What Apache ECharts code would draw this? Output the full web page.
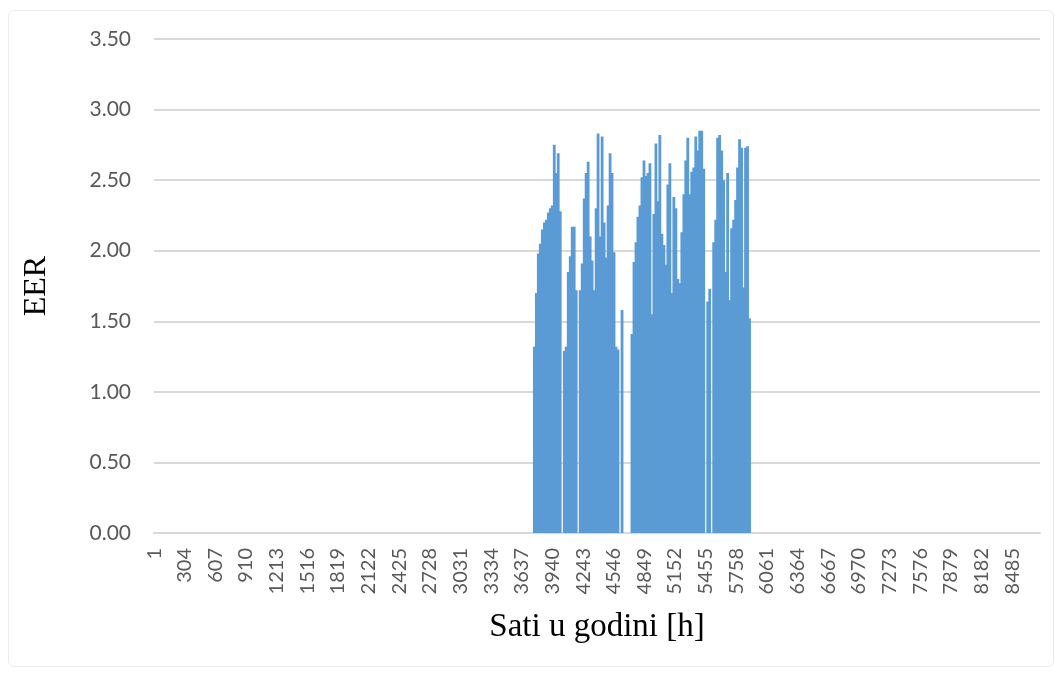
<!DOCTYPE html>
<html>
<head>
<meta charset="utf-8">
<title>EER</title>
<script src="https://cdn.jsdelivr.net/npm/echarts@6/dist/echarts.min.js"></script>
<style>
  html, body { margin: 0; padding: 0; background: #fff; }
  .frame {
    position: absolute; left: 8px; top: 10px; width: 1044px; height: 655px;
    border: 1px solid #ececec; border-radius: 6px;
  }
  #chart { width: 1059px; height: 673px; }
</style>
</head>
<body>
<div class="frame"></div>
<div id="chart"></div>
<script>
// sati u godini: 1 .. 8760
const hourCount = 8760
const tickStep = 303 // oznake na osi x: 1, 304, 607 ...
// očitane vrijednosti EER, jedna vrijednost za svakih ~20 sati, od sata 3760
const firstHour = 3760
const slotHours = 19.7
const eerValues = [
  1.32, 1.70, 1.98, 2.05, 2.15, 2.20, 2.22, 2.27, 2.30, 2.32,
  2.75, 2.55, 2.69, 2.28, 0, 1.29, 1.32, 1.85, 1.96, 2.17,
  2.17, 1.72, 0, 1.72, 1.91, 2.37, 2.55, 2.63, 2.10, 1.93,
  1.72, 2.30, 2.83, 2.10, 2.81, 2.20, 1.95, 2.32, 2.69, 2.55,
  1.99, 1.32, 1.30, 0, 1.58, 0, 0, 0, 0, 1.41,
  1.92, 2.06, 2.24, 2.32, 2.52, 2.64, 2.53, 2.55, 2.62, 1.55,
  2.26, 2.76, 2.35, 2.82, 2.12, 2.04, 1.90, 2.47, 2.62, 1.70,
  2.38, 2.30, 1.80, 1.77, 2.13, 2.40, 2.64, 2.80, 2.40, 2.56,
  2.59, 2.81, 2.71, 2.85, 2.85, 2.58, 0, 1.64, 1.73, 0,
  2.06, 2.22, 2.80, 2.82, 2.71, 2.50, 1.85, 2.55, 1.65, 2.16,
  2.22, 2.36, 2.59, 2.79, 2.73, 1.74, 2.73, 2.74, 1.52
]

// kategorije i podaci po satima (ostali sati imaju EER = 0)
const hours = []
const seriesData = []
for (let i = 0; i < hourCount; i++) {
  hours.push(String(i + 1))
  seriesData.push(0)
}
eerValues.forEach((v, k) => {
  seriesData[Math.round(firstHour + k * slotHours)] = v
})

const labelFont = 'Lato, "Open Sans", sans-serif'
const titleFont = '"Liberation Serif", serif'
const chart = echarts.init(document.getElementById('chart'))
chart.setOption({
  animation: false,
  grid: { left: 154, right: 19, top: 39, bottom: 140 },
  xAxis: {
    type: 'category',
    data: hours,
    name: 'Sati u godini [h]',
    nameLocation: 'middle',
    nameGap: 78,
    nameTextStyle: { fontFamily: titleFont, fontSize: 33, color: '#000' },
    axisLine: { lineStyle: { color: '#d9d9d9', width: 2 } },
    axisTick: { show: false },
    axisLabel: {
      interval: tickStep - 1,
      rotate: 90,
      margin: 15,
      fontFamily: labelFont,
      fontSize: 20,
      color: '#595959'
    }
  },
  yAxis: {
    type: 'value',
    min: 0,
    max: 3.5,
    interval: 0.5,
    name: 'EER',
    nameLocation: 'middle',
    nameGap: 101,
    nameTextStyle: { fontFamily: titleFont, fontSize: 32, color: '#000' },
    axisLine: { show: false },
    axisTick: { show: false },
    splitLine: { lineStyle: { color: '#d9d9d9', width: 2 } },
    axisLabel: {
      margin: 23,
      fontFamily: labelFont,
      fontSize: 21,
      color: '#595959',
      formatter: (v) => v.toFixed(2)
    }
  },
  series: [
    {
      type: 'bar',
      data: seriesData,
      barWidth: 2.8,
      itemStyle: { color: '#5b9bd5' }
    }
  ]
})
</script>
</body>
</html>
